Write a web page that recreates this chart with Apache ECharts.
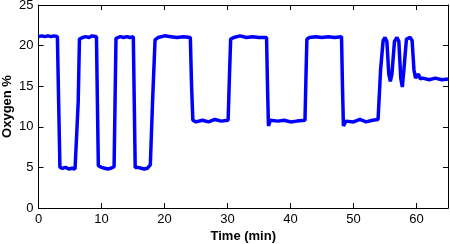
<!DOCTYPE html>
<html>
<head>
<meta charset="utf-8">
<script src="https://cdn.jsdelivr.net/npm/echarts@6/dist/echarts.min.js"></script>
<style>
  html, body { margin: 0; padding: 0; background: #fff; }
  #main { width: 450px; height: 244px; }
</style>
</head>
<body>
<div id="main"></div>
<script>
// time in minutes
var timeMin = [
  0, 0.5, 1, 1.5, 2, 2.5, 3.0, 3.2, 3.4,
  3.8, 4.3, 4.8, 5.3, 5.8, 6.05, 6.3, 6.5,
  7, 7.5, 8, 8.5, 9.2, 9.35, 9.5,
  10, 10.5, 11, 11.5, 12.0, 12.15, 12.3,
  13, 13.5, 14, 14.5, 15.05, 15.2, 15.35,
  15.8, 16.3, 16.8, 17.3, 17.75, 18.1, 18.5,
  19, 20, 21, 22, 23, 24.1, 24.3, 24.5,
  25, 26, 27, 28, 29, 30.1, 30.3, 30.5,
  31, 32, 33, 34, 35, 36.2, 36.35, 36.5,
  36.8, 38, 39, 40, 41, 42.3, 42.45, 42.6,
  43, 44, 45, 46, 47, 48.1, 48.25, 48.4,
  48.8, 50, 51, 52, 53, 53.9, 54.3, 54.7,
  55.0, 55.3, 55.6, 55.85, 56.1, 56.5, 56.9, 57.2, 57.5, 57.75, 58.0, 58.4,
  59.0, 59.3, 59.6, 59.85, 60.3, 60.6, 61, 62, 63, 64, 65
];
// oxygen percentage
var oxygen = [
  21.1, 21.2, 21.1, 21.2, 21.1, 21.2, 21.1, 13, 5.0,
  4.9, 5.0, 4.8, 4.9, 4.8, 5.0, 13, 20.8,
  21.0, 21.1, 21.0, 21.2, 21.1, 13, 5.2,
  5.0, 4.9, 4.8, 4.9, 5.1, 13, 20.9,
  21.1, 21.0, 21.1, 21.0, 21.1, 13, 5.0,
  5.0, 4.9, 4.8, 4.9, 5.3, 13, 20.7,
  21.0, 21.2, 21.1, 21.0, 21.1, 21.0, 15, 10.8,
  10.6, 10.8, 10.6, 10.9, 10.7, 10.8, 16, 20.8,
  21.0, 21.2, 21.0, 21.1, 21.0, 21.0, 15, 10.1,
  10.8, 10.7, 10.8, 10.6, 10.7, 10.8, 16, 20.8,
  21.0, 21.1, 21.0, 21.1, 21.0, 21.1, 15, 10.1,
  10.7, 10.6, 10.9, 10.6, 10.8, 10.9, 17, 20.6,
  21.0, 20.5, 16.5, 15.6, 16.5, 20.5, 21.0, 20.5, 16, 14.9, 17, 20.8,
  21.0, 20.6, 17, 16.0, 16.5, 15.9, 16.0, 15.8, 16.0, 15.8, 15.9
];
var xTicks = [0, 10, 20, 30, 40, 50, 60];
var yTicks = [0, 5, 10, 15, 20, 25];

var pts = [];
for (var i = 0; i < timeMin.length; i++) {
  pts.push([timeMin[i], oxygen[i]]);
}

var fontFam = '"Liberation Sans", Arial, sans-serif';
function boxAxis(isX, pos, show) {
  return {
    type: 'value',
    position: pos,
    min: 0,
    max: isX ? 65 : 25,
    interval: isX ? 10 : 5,
    axisLine: { show: true, onZero: false, lineStyle: { color: '#000', width: 1 } },
    axisTick: { show: true, inside: true, length: 5, lineStyle: { color: '#000' } },
    axisLabel: {
      show: show, color: '#000', fontSize: 13, fontFamily: fontFam, margin: 5,
      showMaxLabel: isX ? false : true
    },
    splitLine: { show: false }
  };
}

var xMain = boxAxis(true, 'bottom', true);
xMain.name = 'Time (min)';
xMain.nameLocation = 'middle';
xMain.nameGap = 22;
xMain.nameMoveOverlap = false;
xMain.nameTextStyle = { color: '#000', fontSize: 13, fontWeight: 'bold', fontFamily: fontFam };
var yMain = boxAxis(false, 'left', true);
yMain.name = 'Oxygen %';
yMain.nameLocation = 'middle';
yMain.nameGap = 25;
yMain.nameMoveOverlap = false;
yMain.nameTextStyle = { color: '#000', fontSize: 13, fontWeight: 'bold', fontFamily: fontFam };

var option = {
  animation: false,
  grid: { left: 38.5, right: 2, top: 5, bottom: 36, outerBoundsMode: 'none', containLabel: false },
  xAxis: [xMain, boxAxis(true, 'top', false)],
  yAxis: [yMain, boxAxis(false, 'right', false)],
  series: [{
    type: 'line',
    xAxisIndex: 0,
    yAxisIndex: 0,
    data: pts,
    showSymbol: false,
    lineStyle: { color: '#0000ff', width: 3.5 }
  }]
};
var myChart = echarts.init(document.getElementById('main'));
myChart.setOption(option);
</script>
</body>
</html>
